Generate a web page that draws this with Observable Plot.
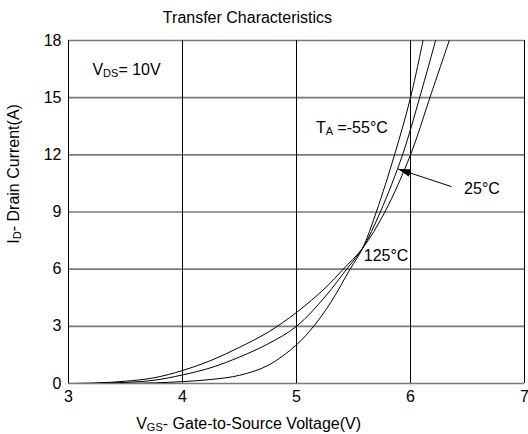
<!DOCTYPE html>
<html>
<head>
<meta charset="utf-8">
<script src="https://cdn.jsdelivr.net/npm/d3@7"></script>
<script src="https://cdn.jsdelivr.net/npm/@observablehq/plot@0.6"></script>
<style>
  html, body { margin: 0; padding: 0; background: #fff; }
  #chart svg { display: block; }
</style>
</head>
<body>
<div id="chart"></div>
<script>
// Drain current I_D (A) versus gate-source voltage V_GS (V), V_DS = 10 V
const vgsCold = [3, 3.25, 3.5, 3.75, 4, 4.25, 4.5, 4.75, 5, 5.15, 5.3, 5.47, 5.58, 5.70, 5.86, 6.0, 6.11];
const idCold  = [0, 0, 0.01, 0.03, 0.1, 0.21, 0.43, 0.95, 2.03, 3.0, 4.25, 6.0, 7.1, 9, 12, 15, 18];

const vgsRoom = [3, 3.25, 3.5, 3.75, 4, 4.25, 4.5, 4.75, 5, 5.25, 5.44, 5.58, 5.735, 5.93, 6.08, 6.22];
const idRoom  = [0, 0.01, 0.06, 0.17, 0.45, 0.83, 1.39, 2.08, 3.0, 4.55, 6.0, 7.1, 9, 12, 15, 18];

const vgsHot = [3, 3.25, 3.5, 3.75, 4, 4.25, 4.5, 4.75, 5, 5.25, 5.41, 5.58, 5.775, 6.0, 6.17, 6.34];
const idHot  = [0, 0.03, 0.12, 0.3, 0.68, 1.21, 1.9, 2.69, 3.73, 5.0, 6.0, 7.1, 9, 12, 15, 18];

const temps = ["-55°C", "25°C", "125°C"];
const xTicks = [3, 4, 5, 6, 7];
const yTicks = [0, 3, 6, 9, 12, 15, 18];

// Text placed in data space; "_{..}" marks a subscript
const notes = [
  {x: 3.21, y: 16.17, text: "V_{DS}= 10V"},
  {x: 5.17, y: 13.12, text: "T_{A} =-55°C"},
  {x: 6.47, y: 9.96,  text: "25°C"},
  {x: 5.59, y: 6.45,  text: "125°C"}
];
const pointer = [{x1: 6.36, y1: 10.33, x2: 5.89, y2: 11.26}];

const title = "Transfer Characteristics";
const xLabel = "V_{GS}- Gate-to-Source Voltage(V)";
const yLabel = "I_{D}- Drain Current(A)";

const curves = [[vgsCold, idCold], [vgsRoom, idRoom], [vgsHot, idHot]];
const rows = curves.flatMap(([vs, is], k) => vs.map((v, i) => ({temp: temps[k], vgs: v, id: is[i]})));

const font = "'Liberation Sans', Arial, sans-serif";

const chart = Plot.plot({
  width: 528,
  height: 434,
  marginLeft: 68,
  marginRight: 4,
  marginTop: 40,
  marginBottom: 51,
  style: {fontFamily: font, fontSize: "16px", background: "#fff", color: "#000"},
  x: {domain: [3, 7], ticks: xTicks, tickSize: 0, tickPadding: 7, tickFormat: d3.format("d"), label: null},
  y: {domain: [0, 18], ticks: yTicks, tickSize: 0, tickPadding: 7, tickFormat: d3.format("d"), label: null},
  marks: [
    Plot.ruleY(yTicks, {stroke: "#7a7a7a", strokeWidth: 1.6}),
    Plot.ruleX(xTicks, {stroke: "#000", strokeWidth: 1}),
    Plot.line(rows, {x: "vgs", y: "id", z: "temp", curve: "catmull-rom", stroke: "#000", strokeWidth: 1, clip: true}),
    Plot.link(pointer, {x1: "x1", y1: "y1", x2: "x2", y2: "y2", stroke: "#000", strokeWidth: 1}),
    Plot.text(notes, {x: "x", y: "y", text: "text", textAnchor: "start", lineAnchor: "bottom", fontSize: 16, fill: "#000"}),
    Plot.text([title], {x: () => 4.57, y: () => 18, text: d => d, dy: -18, lineAnchor: "bottom", fontSize: 16, fill: "#000"}),
    Plot.text([xLabel], {x: () => 4.58, y: () => 0, text: d => d, dy: 45, lineAnchor: "bottom", fontSize: 16, fill: "#000"}),
    Plot.text([yLabel], {x: () => 3, y: () => 11.0, text: d => d, dx: -50, rotate: -90, lineAnchor: "bottom", fontSize: 16, fill: "#000"})
  ]
});

const svg = d3.select(chart);

// Turn "_{..}" into subscript tspans
svg.selectAll("text").each(function () {
  const t = this.textContent;
  if (!t.includes("_{")) return;
  const parts = t.split(/(_\{[^}]*\})/).filter(p => p);
  this.textContent = "";
  const el = d3.select(this);
  let shifted = false;
  for (const p of parts) {
    if (p.startsWith("_{")) {
      el.append("tspan").attr("font-size", "11px").attr("dy", 2).text(p.slice(2, -1));
      shifted = true;
    } else {
      const ts = el.append("tspan").text(p);
      if (shifted) { ts.attr("dy", -2); shifted = false; }
    }
  }
});

// Filled arrowhead on the 25°C pointer
const defs = svg.insert("defs", ":first-child");
defs.append("marker")
  .attr("id", "pointer-head")
  .attr("markerUnits", "userSpaceOnUse")
  .attr("viewBox", "0 -5 14 10")
  .attr("refX", 13)
  .attr("refY", 0)
  .attr("markerWidth", 14)
  .attr("markerHeight", 10)
  .attr("orient", "auto")
  .append("path")
  .attr("d", "M0,-4L13,0L0,4Z")
  .attr("fill", "#000");
svg.selectAll('g[aria-label="link"] path').attr("marker-end", "url(#pointer-head)");

document.getElementById("chart").appendChild(chart);
</script>
</body>
</html>
